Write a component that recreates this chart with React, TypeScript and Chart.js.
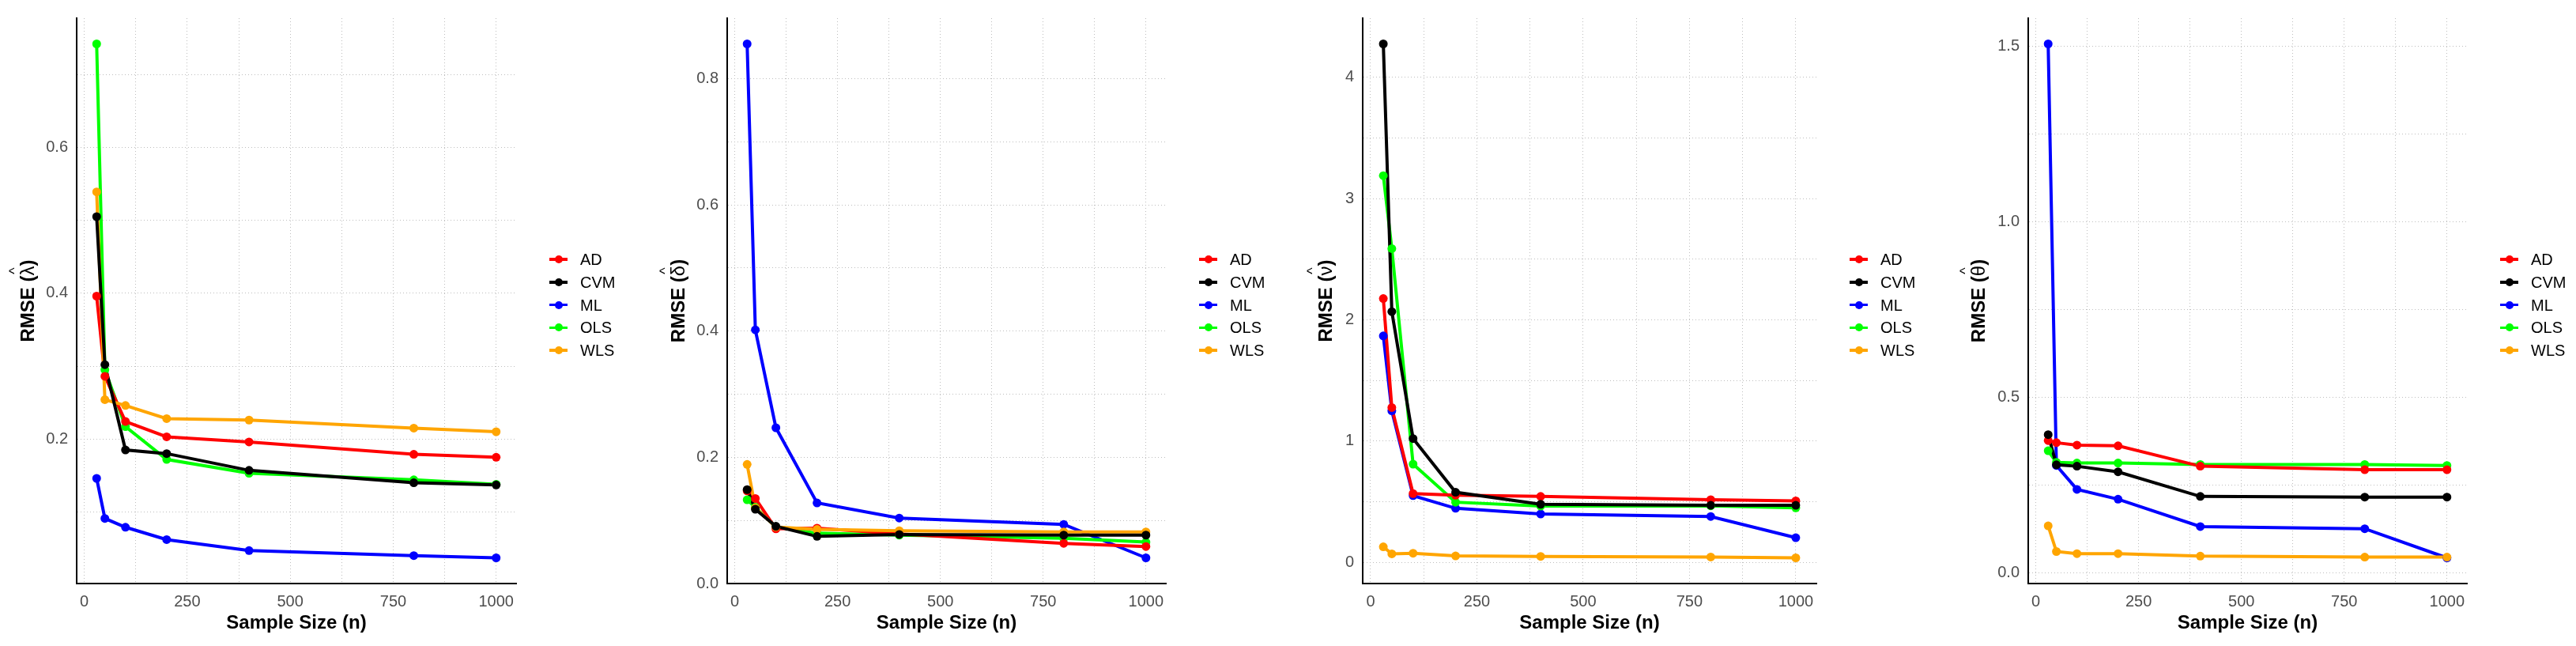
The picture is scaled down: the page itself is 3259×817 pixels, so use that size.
import { useEffect, useRef } from "react";
import { Chart, registerables } from "chart.js";

Chart.register(...registerables);
Chart.defaults.font.family = '"Liberation Sans", Arial, sans-serif';

const FONT = '"Liberation Sans", Arial, sans-serif';

// sample sizes (x)
const sampleSizes = [30, 50, 100, 200, 400, 800, 1000];
const methods = ["AD", "CVM", "ML", "OLS", "WLS"];
const methodColors = ["#FF0000", "#000000", "#0000FF", "#00FF00", "#FFA500"];
// bottom -> top drawing order seen in the picture
const drawOrder = ["ML", "OLS", "AD", "WLS", "CVM"];

const xMajor = [0, 250, 500, 750, 1000];
const xMinor = [125, 375, 625, 875];

// RMSE of lambda-hat
const lambdaAD = [0.396, 0.286, 0.224, 0.203, 0.196, 0.179, 0.175];
const lambdaCVM = [0.505, 0.302, 0.185, 0.18, 0.157, 0.14, 0.137];
const lambdaML = [0.146, 0.091, 0.079, 0.062, 0.047, 0.04, 0.037];
const lambdaOLS = [0.742, 0.295, 0.217, 0.172, 0.153, 0.144, 0.138];
const lambdaWLS = [0.539, 0.254, 0.246, 0.228, 0.226, 0.215, 0.21];

// RMSE of delta-hat
const deltaAD = [0.147, 0.135, 0.087, 0.088, 0.079, 0.064, 0.059];
const deltaCVM = [0.149, 0.118, 0.091, 0.075, 0.078, 0.077, 0.077];
const deltaML = [0.855, 0.402, 0.247, 0.128, 0.104, 0.094, 0.041];
const deltaOLS = [0.133, 0.121, 0.09, 0.08, 0.077, 0.072, 0.066];
const deltaWLS = [0.189, 0.12, 0.09, 0.086, 0.084, 0.082, 0.082];

// RMSE of nu-hat
const nuAD = [2.176, 1.277, 0.567, 0.554, 0.544, 0.517, 0.507];
const nuCVM = [4.277, 2.068, 1.021, 0.578, 0.479, 0.47, 0.47];
const nuML = [1.868, 1.25, 0.55, 0.446, 0.399, 0.378, 0.203];
const nuOLS = [3.19, 2.588, 0.81, 0.496, 0.464, 0.466, 0.449];
const nuWLS = [0.128, 0.07, 0.075, 0.053, 0.049, 0.044, 0.037];

// RMSE of theta-hat
const thetaAD = [0.376, 0.37, 0.363, 0.361, 0.303, 0.293, 0.293];
const thetaCVM = [0.393, 0.307, 0.303, 0.287, 0.217, 0.215, 0.215];
const thetaML = [1.506, 0.305, 0.237, 0.209, 0.131, 0.125, 0.042];
const thetaOLS = [0.347, 0.314, 0.312, 0.312, 0.308, 0.308, 0.305];
const thetaWLS = [0.133, 0.06, 0.054, 0.054, 0.047, 0.044, 0.044];

// y tick breaks
const lambdaMajor = [0.2, 0.4, 0.6];
const lambdaMinor = [0.1, 0.3, 0.5, 0.7];
const deltaMajor = [0, 0.2, 0.4, 0.6, 0.8];
const deltaMinor = [0.1, 0.3, 0.5, 0.7];
const nuMajor = [0, 1, 2, 3, 4];
const nuMinor = [0.5, 1.5, 2.5, 3.5];
const thetaMajor = [0, 0.5, 1, 1.5];
const thetaMinor = [0.25, 0.75, 1.25];

const panels = [
  {
    letter: "\u03BB",
    series: [lambdaAD, lambdaCVM, lambdaML, lambdaOLS, lambdaWLS],
    major: lambdaMajor, minor: lambdaMinor, decimals: 1,
    left: 0, width: 815, plotLeft: 97, plotRight: 653, titleX: 34,
  },
  {
    letter: "\u03B4",
    series: [deltaAD, deltaCVM, deltaML, deltaOLS, deltaWLS],
    major: deltaMajor, minor: deltaMinor, decimals: 1,
    left: 815, width: 815, plotLeft: 105, plotRight: 660, titleX: 42,
  },
  {
    letter: "\u03BD",
    series: [nuAD, nuCVM, nuML, nuOLS, nuWLS],
    major: nuMajor, minor: nuMinor, decimals: 0,
    left: 1630, width: 815, plotLeft: 94, plotRight: 668, titleX: 46,
  },
  {
    letter: "\u03B8",
    series: [thetaAD, thetaCVM, thetaML, thetaOLS, thetaWLS],
    major: thetaMajor, minor: thetaMinor, decimals: 1,
    left: 2445, width: 814, plotLeft: 121, plotRight: 676, titleX: 57,
  },
];

const PLOT_TOP = 20;
const PLOT_BOTTOM = 738;
const X_AXIS_H = 70;

// y title "RMSE (x̂)" drawn rotated, with a hat over the greek letter
const hatTitle = {
  id: "hatTitle",
  afterDraw(chart: any, _args: any, opts: any) {
    const { ctx, chartArea } = chart;
    const cy = (chartArea.top + chartArea.bottom) / 2;
    const bold = `bold 24px ${FONT}`;
    const plain = `24px ${FONT}`;
    ctx.save();
    ctx.translate(opts.x, cy);
    ctx.rotate(-Math.PI / 2);
    ctx.fillStyle = "#000000";
    ctx.textBaseline = "alphabetic";
    ctx.textAlign = "left";
    ctx.font = bold;
    const w1 = ctx.measureText("RMSE (").width;
    const w3 = ctx.measureText(")").width;
    ctx.font = plain;
    const w2 = ctx.measureText(opts.letter).width;
    const base = 8.6;
    let x = -(w1 + w2 + w3) / 2;
    ctx.font = bold;
    ctx.fillText("RMSE (", x, base);
    x += w1;
    ctx.font = plain;
    ctx.fillText(opts.letter, x, base);
    ctx.font = `18px ${FONT}`;
    ctx.textAlign = "center";
    ctx.fillText("^", x + w2 / 2, base - 18.5);
    ctx.textAlign = "left";
    x += w2;
    ctx.font = bold;
    ctx.fillText(")", x, base);
    ctx.restore();
  },
};

function Panel({ cfg }: { cfg: (typeof panels)[number] }) {
  const chartRef = useRef<HTMLCanvasElement>(null);
  const chartInstance = useRef<Chart | null>(null);

  useEffect(() => {
    if (!chartRef.current) return;
    const ctx = chartRef.current.getContext("2d");
    if (!ctx) return;
    if (chartInstance.current) chartInstance.current.destroy();

    // ggplot-style 5% expansion
    const all = cfg.series.flat();
    const lo = Math.min(...all);
    const hi = Math.max(...all);
    const yPad = (hi - lo) * 0.05;
    const xLo = Math.min(...sampleSizes);
    const xHi = Math.max(...sampleSizes);
    const xPad = (xHi - xLo) * 0.05;

    const xTicks = [...xMajor, ...xMinor].sort((a, b) => a - b);
    const yTicks = [...cfg.major, ...cfg.minor].sort((a, b) => a - b);

    const datasets: any[] = [];
    drawOrder.forEach((m, k) => {
      const i = methods.indexOf(m);
      const pts = cfg.series[i].map((v, j) => ({ x: sampleSizes[j], y: v }));
      datasets.push({
        label: m,
        data: pts,
        borderColor: methodColors[i],
        backgroundColor: methodColors[i],
        borderWidth: 4,
        pointRadius: 0,
        tension: 0,
        order: 20 - k,
      });
      datasets.push({
        label: m + " points",
        data: pts,
        showLine: false,
        borderColor: methodColors[i],
        pointBackgroundColor: methodColors[i],
        pointBorderWidth: 0,
        pointRadius: 5.5,
        order: 10 - k,
      });
    });

    chartInstance.current = new Chart(ctx, {
      type: "line",
      data: { datasets },
      plugins: [hatTitle],
      options: {
        animation: false,
        responsive: true,
        maintainAspectRatio: false,
        layout: {
          padding: {
            left: 0,
            right: cfg.width - cfg.plotRight,
            top: PLOT_TOP,
            bottom: 817 - PLOT_BOTTOM - X_AXIS_H,
          },
        },
        plugins: {
          legend: { display: false },
          tooltip: { enabled: false },
          hatTitle: { x: cfg.titleX, letter: cfg.letter },
        } as any,
        scales: {
          x: {
            type: "linear",
            bounds: "data",
            min: xLo - xPad,
            max: xHi + xPad,
            afterBuildTicks: (s: any) => {
              s.ticks = xTicks.map((v) => ({ value: v }));
            },
            afterFit: (s: any) => {
              s.height = X_AXIS_H;
            },
            ticks: {
              autoSkip: false,
              maxRotation: 0,
              padding: 11,
              color: "#4D4D4D",
              font: { size: 20 },
              callback: (v: any) => (xMajor.includes(v) ? String(v) : ""),
            },
            grid: { color: "#BEBEBE", lineWidth: 1, drawTicks: false },
            border: { display: true, color: "#000000", width: 2, dash: [1, 3] },
            title: {
              display: true,
              text: "Sample Size (n)",
              color: "#000000",
              font: { size: 24, weight: "bold" },
              padding: { top: 0, bottom: 5 },
            },
          },
          y: {
            type: "linear",
            bounds: "data",
            min: lo - yPad,
            max: hi + yPad,
            afterBuildTicks: (s: any) => {
              s.ticks = yTicks.map((v) => ({ value: v }));
            },
            afterFit: (s: any) => {
              s.width = cfg.plotLeft;
            },
            ticks: {
              autoSkip: false,
              padding: 11,
              color: "#4D4D4D",
              font: { size: 20 },
              callback: (v: any) =>
                cfg.major.includes(v) ? Number(v).toFixed(cfg.decimals) : "",
            },
            grid: { color: "#BEBEBE", lineWidth: 1, drawTicks: false },
            border: { display: true, color: "#000000", width: 2, dash: [1, 3] },
            title: { display: false },
          },
        },
      },
    });

    return () => {
      if (chartInstance.current) {
        chartInstance.current.destroy();
        chartInstance.current = null;
      }
    };
  }, [cfg]);

  const keyLeft = cfg.plotRight + 42;

  return (
    <div
      style={{
        position: "absolute",
        left: cfg.left,
        top: 0,
        width: cfg.width,
        height: 817,
      }}
    >
      <canvas ref={chartRef}></canvas>

      {/* Legend */}
      {methods.map((m, i) => (
        <div
          key={m}
          style={{
            position: "absolute",
            left: keyLeft,
            top: 328 + i * 28.75 - 14,
            height: 28,
            display: "flex",
            alignItems: "center",
          }}
        >
          <div style={{ position: "relative", width: 23, height: 28 }}>
            <div
              style={{
                position: "absolute",
                left: 0,
                top: 12.25,
                width: 23,
                height: 3.5,
                background: methodColors[i],
              }}
            ></div>
            <div
              style={{
                position: "absolute",
                left: 6.5,
                top: 9,
                width: 10,
                height: 10,
                borderRadius: "50%",
                background: methodColors[i],
              }}
            ></div>
          </div>
          <span
            style={{
              marginLeft: 16,
              fontFamily: FONT,
              fontSize: 20,
              lineHeight: "20px",
              color: "#000000",
            }}
          >
            {m}
          </span>
        </div>
      ))}
    </div>
  );
}

export default function App() {
  return (
    <div
      style={{
        position: "absolute",
        left: 0,
        top: 0,
        width: 3259,
        height: 817,
        background: "#FFFFFF",
      }}
    >
      {panels.map((p) => (
        <Panel key={p.letter} cfg={p} />
      ))}
    </div>
  );
}
